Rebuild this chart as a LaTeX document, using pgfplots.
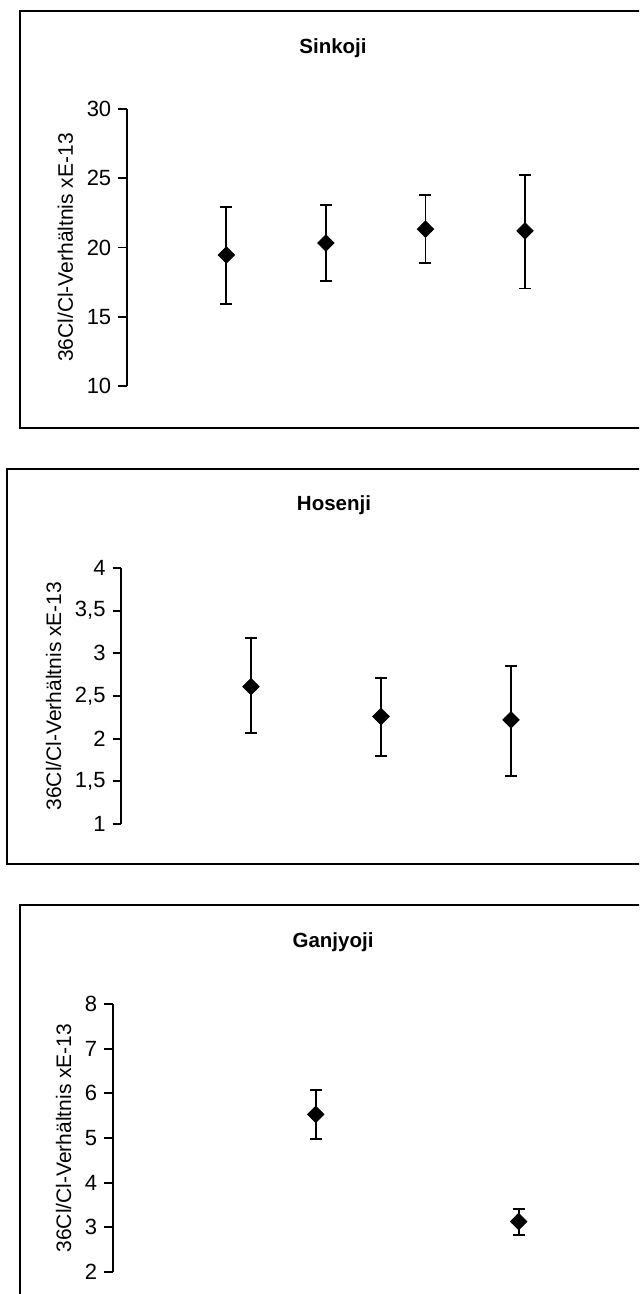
\documentclass[border=0pt]{standalone}
\usepackage{fontspec}
\setmainfont{Liberation Sans}
\usepackage{pgfplots}
\pgfplotsset{compat=1.18}
\pgfplotsset{
  panel/.style={
    scale only axis,
    axis x line=none,
    axis y line=left,
    xtick=\empty,
    y axis line style={-, line width=0.9pt, black},
    ytick style={line width=0.9pt, black},
    tick align=outside,
    ytick pos=left,
    major tick length=4.2pt,
    xmin=0,
    yticklabel style={font=\fontsize{11}{13}\selectfont, /pgf/number format/assume math mode=true, /pgf/number format/use comma},
    ylabel={36Cl/Cl-Verhältnis xE-13},
    ylabel style={font=\fontsize{10.5}{12}\selectfont},
    clip=false,
  },
  ebar/.style={only marks, black, mark=square*, mark size=2.9pt,
    mark options={rotate=45, fill=black, draw=black},
    error bars/.cd, y dir=both, y explicit,
    error bar style={line width=0.9pt, black},
    error mark options={rotate=90, mark size=3pt, line width=0.9pt, black}},
}
\begin{document}
\begin{tikzpicture}
\useasboundingbox (0,0) rectangle (319.5pt,-647pt);
\clip (0,0) rectangle (319.5pt,-647pt);
% panel borders
\draw[line width=1pt] (9.8pt,-5.5pt) rectangle (360pt,-213.85pt);
\draw[line width=1pt] (3.7pt,-234.5pt) rectangle (360pt,-432pt);
\draw[line width=1pt] (9.8pt,-452.5pt) rectangle (360pt,-700pt);
% titles
\node[anchor=base, font=\bfseries\fontsize{10.25}{12}\selectfont] at (166.5pt,-26.65pt) {Sinkoji};
\node[anchor=base, font=\bfseries\fontsize{10.25}{12}\selectfont] at (167pt,-255.3pt) {Hosenji};
\node[anchor=base, font=\bfseries\fontsize{10.25}{12}\selectfont] at (166.5pt,-473.65pt) {Ganjyoji};

\begin{axis}[panel, at={(63.35pt,-193pt)}, anchor=south west,
  width=249pt, height=138.5pt, xmax=5, ymin=10, ymax=30, ytick={10,15,20,25,30}]
\addplot+[ebar] coordinates {
  (1,19.46) += (0,3.47) -= (0,3.56)
  (2,20.32) += (0,2.73) -= (0,2.72)
  (3,21.33) += (0,2.44) -= (0,2.43)
  (4,21.20) += (0,4.06) -= (0,4.16)
};
\end{axis}

\begin{axis}[panel, at={(60.5pt,-412pt)}, anchor=south west,
  width=260pt, height=128pt, xmax=4, ymin=1, ymax=4, ytick={1,1.5,2,2.5,3,3.5,4}]
\addplot+[ebar] coordinates {
  (1,2.61) += (0,0.57) -= (0,0.54)
  (2,2.26) += (0,0.45) -= (0,0.46)
  (3,2.22) += (0,0.63) -= (0,0.66)
};
\end{axis}

\begin{axis}[panel, at={(56.35pt,-636pt)}, anchor=south west,
  width=253.75pt, height=134pt, xmax=2.5, ymin=2, ymax=8, ytick={2,3,4,5,6,7,8}]
\addplot+[ebar] coordinates {
  (1,5.53) += (0,0.54) -= (0,0.56)
  (2,3.13) += (0,0.28) -= (0,0.31)
};
\end{axis}
\end{tikzpicture}
\end{document}
